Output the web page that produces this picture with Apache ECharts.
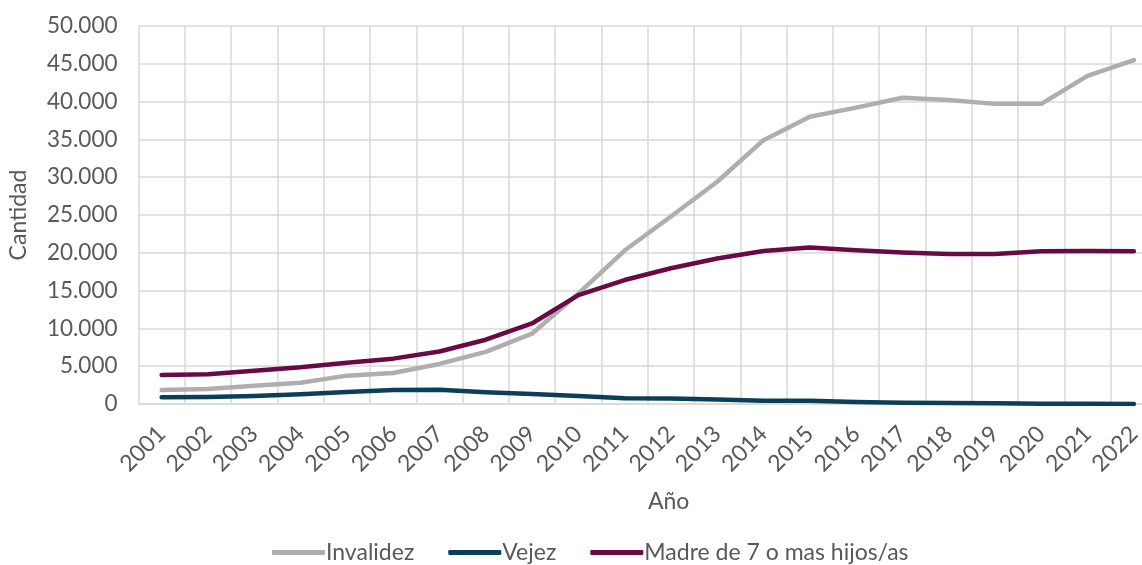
<!DOCTYPE html>
<html>
<head>
<meta charset="utf-8">
<script src="https://cdn.jsdelivr.net/npm/echarts@6/dist/echarts.min.js"></script>
<style>
  html, body { margin: 0; padding: 0; background: #fff; }
  #chart { width: 1142px; height: 565px; }
</style>
</head>
<body>
<div id="chart"></div>
<script>
// años
const years = ['2001', '2002', '2003', '2004', '2005', '2006', '2007', '2008', '2009', '2010', '2011',
  '2012', '2013', '2014', '2015', '2016', '2017', '2018', '2019', '2020', '2021', '2022'];

// cantidades por tipo de pension
const invalidez = [1850, 2000, 2400, 2800, 3750, 4100, 5300, 6900, 9300, 14600, 20300,
  24800, 29400, 34900, 38000, 39200, 40500, 40200, 39700, 39700, 43400, 45500];
const vejez = [900, 920, 1050, 1280, 1600, 1850, 1900, 1550, 1320, 1060, 760,
  740, 600, 440, 420, 250, 150, 120, 100, 30, 20, 10];
const madre = [3850, 3930, 4400, 4850, 5450, 6000, 6950, 8500, 10650, 14400, 16400,
  17950, 19250, 20250, 20700, 20350, 20050, 19850, 19850, 20200, 20250, 20200];

const seriesNames = ['Invalidez', 'Vejez', 'Madre de 7 o mas hijos/as'];
const seriesColors = ['#b0adad', '#0b3f57', '#690a45'];
const seriesData = [invalidez, vejez, madre];

const chart = echarts.init(document.getElementById('chart'));
const txt = '#595959';

const option = {
  backgroundColor: '#ffffff',
  textStyle: { fontFamily: 'Lato' },
  title: {
    text: 'Año',
    left: 643,
    top: 485,
    textStyle: { color: txt, fontSize: 23, fontWeight: 'normal', fontFamily: 'Lato' }
  },
  legend: {
    left: 267,
    top: 536,
    itemWidth: 53,
    itemHeight: 5,
    itemGap: 34,
    icon: 'roundRect',
    textStyle: { color: txt, fontSize: 23, padding: [0, 0, 0, -4] },
    data: seriesNames
  },
  grid: {
    left: 138.5,
    right: -15,
    top: 26,
    bottom: 161,
    outerBoundsMode: 'none'
  },
  xAxis: {
    type: 'category',
    data: years,
    boundaryGap: true,
    axisLine: { lineStyle: { color: '#d9d9d9', width: 1.5 } },
    axisTick: { show: false },
    splitLine: { show: true, interval: 0, lineStyle: { color: '#d9d9d9', width: 1.5 } },
    axisLabel: { color: txt, fontSize: 23, rotate: 45, margin: 26, interval: 0 }
  },
  yAxis: {
    type: 'value',
    min: 0,
    max: 50000,
    interval: 5000,
    name: 'Cantidad',
    nameLocation: 'middle',
    nameGap: 108,
    nameTextStyle: { color: txt, fontSize: 23 },
    axisLine: { show: false },
    axisTick: { show: false },
    splitLine: { lineStyle: { color: '#d9d9d9', width: 1.5 } },
    axisLabel: {
      color: txt,
      fontSize: 22.5,
      margin: 21,
      formatter: v => v === 0 ? '0' : v.toLocaleString('de-DE')
    }
  },
  series: seriesNames.map((name, i) => ({
    name: name,
    type: 'line',
    data: seriesData[i],
    symbol: 'none',
    smooth: false,
    color: seriesColors[i],
    lineStyle: { width: 4.5, color: seriesColors[i], cap: 'round', join: 'round' }
  }))
};

chart.setOption(option);
</script>
</body>
</html>
